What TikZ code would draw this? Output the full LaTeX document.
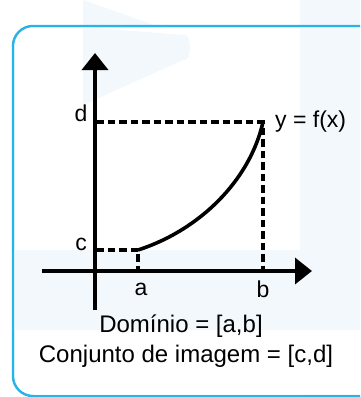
\documentclass[tikz,border=0pt]{standalone}
\usepackage{fontspec}
\setmainfont{Liberation Sans}
\usetikzlibrary{arrows.meta}
\definecolor{frameblue}{HTML}{29B3E6}
\definecolor{wm}{HTML}{F3F8FC}
\tikzset{
  axis/.style={line width=3.6pt,-{Triangle[width=26pt,length=17pt]}},
  guide/.style={line width=3.2pt,dash pattern=on 7.5pt off 4pt},
  curve/.style={line width=3.6pt},
  lbl/.style={font=\fontsize{23}{24}\selectfont,inner sep=0pt},
  captxt/.style={font=\fontsize{24}{26}\selectfont,inner sep=0pt}
}
\begin{document}
\begin{tikzpicture}[x=1pt,y=-1pt]
\useasboundingbox (0,0) rectangle (360,397);
\clip (0,0) rectangle (360,397);
% faint watermark
\fill[wm] (83,0) -- (183,35) to[out=20,in=-20] (183,60) -- (83,105) -- cycle;
\fill[wm] (300,0) rectangle (360,397);
% frame
\draw[frameblue,line width=2.5pt,rounded corners=20pt] (13,26) rectangle (380,396);
\begin{scope}
\clip[rounded corners=19pt] (14.5,27.5) rectangle (378,394.5);
\fill[white] (0,0) rectangle (360,397);
\fill[wm] (83,27) -- (183,35) to[out=20,in=-20] (183,60) -- (83,105) -- cycle;
\fill[wm] (300,27) rectangle (360,250);
\fill[wm] (0,250) rectangle (360,330);
\end{scope}
% coordinates
\coordinate (O) at (95,271);
\coordinate (ytop) at (95,53);
\coordinate (ybot) at (95,310);
\coordinate (xl) at (42,271);
\coordinate (xr) at (312,271);
\coordinate (A) at (138,250);
\coordinate (B) at (263,122);
\coordinate (ya) at (96,250);
\coordinate (yb) at (96,122);
\coordinate (xa) at (138,271);
\coordinate (xb) at (263,271);
% guides
\draw[guide] (ya) -- (A) -- (xa);
\draw[guide] (yb) -- (B) -- (xb);
% axes
\draw[axis] (ybot) -- (ytop);
\draw[axis] (xl) -- (xr);
% curve
\draw[curve] (A) .. controls (200,230) and (250,180) .. (B);
% labels
\node[lbl] (d) at (81,113) {d};
\node[lbl] (c) at (81,244) {c};
\node[lbl] (la) at (141,289) {a};
\node[lbl] (lb) at (263,289) {b};
\node[lbl,anchor=west] (f) at (275,122) {y = f(x)};
\node[captxt] (dom) at (181,326) {Domínio = [a,b]};
\node[captxt] (img) at (186,356) {Conjunto de imagem = [c,d]};
\end{tikzpicture}
\end{document}
